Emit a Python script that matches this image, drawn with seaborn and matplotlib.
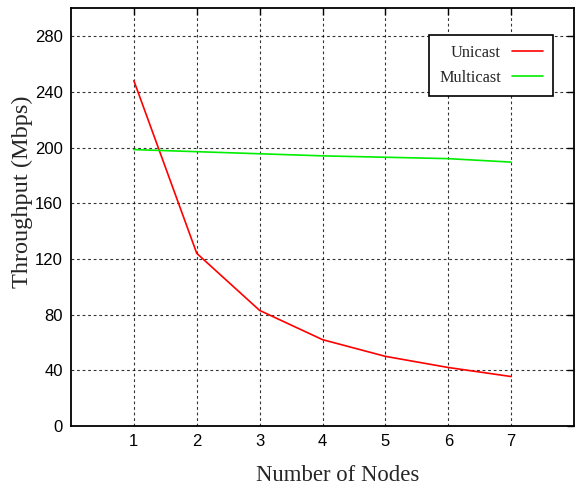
import matplotlib
matplotlib.use("Agg")
import matplotlib.pyplot as plt
import seaborn as sns
import pandas as pd

nodes = [1, 2, 3, 4, 5, 6, 7]
unicast = [248, 124, 83, 62, 50, 42, 35.5]
multicast = [198.5, 197, 195.5, 194, 193, 192, 189.5]
series_names = ["Unicast", "Multicast"]
x_ticks = [1, 2, 3, 4, 5, 6, 7]
y_ticks = [0, 40, 80, 120, 160, 200, 240, 280]

df = pd.DataFrame({
    "Nodes": nodes * 2,
    "Throughput": unicast + multicast,
    "Series": [series_names[0]] * len(nodes) + [series_names[1]] * len(nodes),
})

sns.set_theme(style="white")
plt.rcParams["font.family"] = ["Liberation Sans", "DejaVu Sans"]

fig = plt.figure(figsize=(5.79, 4.86), dpi=100)
ax = fig.add_axes([0.1226, 0.1235, 0.8688, 0.8595])

sns.lineplot(data=df, x="Nodes", y="Throughput", hue="Series",
             palette={"Unicast": "#ff0000", "Multicast": "#00ee00"},
             linewidth=1.2, ax=ax, legend=True)

ax.set_xlim(0, 8)
ax.set_ylim(0, 300)
ax.set_xticks(x_ticks)
ax.set_yticks(y_ticks)
ax.tick_params(axis="both", direction="in", length=5, width=1, labelsize=12,
               colors="black", top=True, right=True, pad=6)
for lbl in ax.get_xticklabels() + ax.get_yticklabels():
    lbl.set_color("black")

ax.grid(True, color="black", linestyle=(0, (2.5, 2.5)), linewidth=0.8, alpha=0.8)
for s in ax.spines.values():
    s.set_color("black")
    s.set_linewidth(1.3)
    s.set_visible(True)

ax.set_xlabel("Number of Nodes", family=["Liberation Serif"], fontsize=16.4)
ax.xaxis.set_label_coords(0.531, -0.093)
ax.set_ylabel("Throughput (Mbps)", family=["Liberation Serif"], fontsize=17.5)
ax.yaxis.set_label_coords(-0.076, 0.56)

handles, labels = ax.get_legend_handles_labels()
leg = ax.legend(handles, labels, loc="upper right", bbox_to_anchor=(0.958, 0.935),
                borderaxespad=0,
                markerfirst=False, frameon=True, fancybox=False, edgecolor="black",
                prop={"family": "Liberation Serif", "size": 11.7},
                handlelength=1.9, borderpad=0.6, labelspacing=0.55, handletextpad=0.7)
leg.get_frame().set_linewidth(1.2)
leg.get_frame().set_facecolor("white")
leg.get_frame().set_alpha(1)

fig.savefig("out.png", dpi=100)
